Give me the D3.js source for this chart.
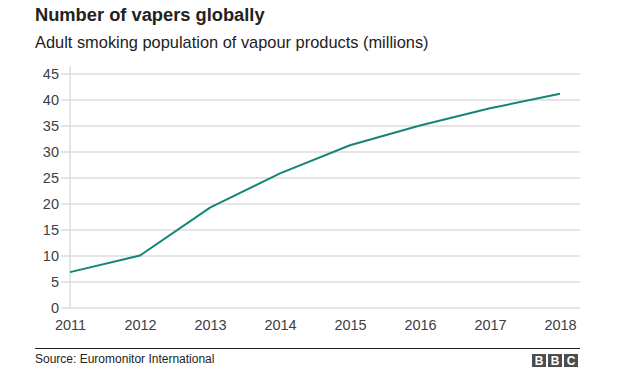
<!DOCTYPE html>
<html lang="en">
<head>
  <meta charset="UTF-8" />
  <title>Number of vapers globally</title>
  <style>
    body {
      margin: 0;
      background: #fff;
      font-family: "Liberation Sans", Arial, sans-serif;
    }
    svg {
      display: block;
    }
    .grid line {
      stroke: #dcdcdc;
      stroke-width: 1.5;
    }
    .tick text {
      fill: #404040;
      font-size: 14.5px;
    }
  </style>
</head>
<body>
  <svg id="chart" width="630" height="370" viewBox="0 0 630 370" xmlns="http://www.w3.org/2000/svg"></svg>

  <script src="https://d3js.org/d3.v7.min.js"></script>
  <script>
    const years = [2011, 2012, 2013, 2014, 2015, 2016, 2017, 2018];
    const vapers = [6.9, 10.1, 19.3, 25.9, 31.3, 35.1, 38.4, 41.2];
    const yTicks = [0, 5, 10, 15, 20, 25, 30, 35, 40, 45];

    const svg = d3.select("#chart");
    const plotLeft = 70, plotRight = 560, plotTop = 74, plotBottom = 308;

    const x = d3.scaleLinear().domain([2011, 2018]).range([plotLeft, plotRight]);
    const y = d3.scaleLinear().domain([0, 45]).range([plotBottom, plotTop]);

    // titles
    svg.append("text")
      .attr("x", 35).attr("y", 21)
      .attr("font-size", 18.3).attr("font-weight", "bold").attr("fill", "#222")
      .text("Number of vapers globally");
    svg.append("text")
      .attr("x", 35).attr("y", 47.5)
      .attr("font-size", 16.4).attr("fill", "#222")
      .text("Adult smoking population of vapour products (millions)");

    // horizontal gridlines
    svg.append("g")
      .attr("class", "grid")
      .selectAll("line")
      .data(yTicks)
      .enter().append("line")
      .attr("x1", 61).attr("x2", 580)
      .attr("y1", d => y(d)).attr("y2", d => y(d));

    // vertical axis line
    svg.append("line")
      .attr("x1", plotLeft).attr("x2", plotLeft)
      .attr("y1", plotTop - 8).attr("y2", plotBottom)
      .attr("stroke", "#dcdcdc").attr("stroke-width", 1.5);

    // y axis labels
    const yAxis = svg.append("g")
      .attr("transform", "translate(61,0)")
      .call(d3.axisLeft(y).tickValues(yTicks).tickSize(0).tickPadding(2));
    yAxis.select(".domain").remove();

    // x axis labels
    const xAxis = svg.append("g")
      .attr("transform", `translate(0,${plotBottom})`)
      .call(d3.axisBottom(x).tickValues(years).tickFormat(d3.format("d")).tickSize(0).tickPadding(12));
    xAxis.select(".domain").remove();

    // line
    const line = d3.line()
      .x((d, i) => x(years[i]))
      .y(d => y(d));

    svg.append("path")
      .datum(vapers)
      .attr("fill", "none")
      .attr("stroke", "#158579")
      .attr("stroke-width", 2)
      .attr("d", line);

    // footer
    svg.append("line")
      .attr("x1", 35).attr("x2", 580)
      .attr("y1", 348.5).attr("y2", 348.5)
      .attr("stroke", "#222").attr("stroke-width", 1);

    svg.append("text")
      .attr("x", 35).attr("y", 363)
      .attr("font-size", 12).attr("fill", "#222")
      .text("Source: Euromonitor International");

    const logo = svg.append("g").attr("transform", "translate(532,354)");
    ["B", "B", "C"].forEach((ch, i) => {
      logo.append("rect")
        .attr("x", i * 16).attr("y", 0)
        .attr("width", 14).attr("height", 13)
        .attr("fill", "#4d4d4d");
      logo.append("text")
        .attr("x", i * 16 + 7).attr("y", 11)
        .attr("text-anchor", "middle")
        .attr("font-size", 12).attr("font-weight", "bold").attr("fill", "#fff")
        .text(ch);
    });
  </script>
</body>
</html>
